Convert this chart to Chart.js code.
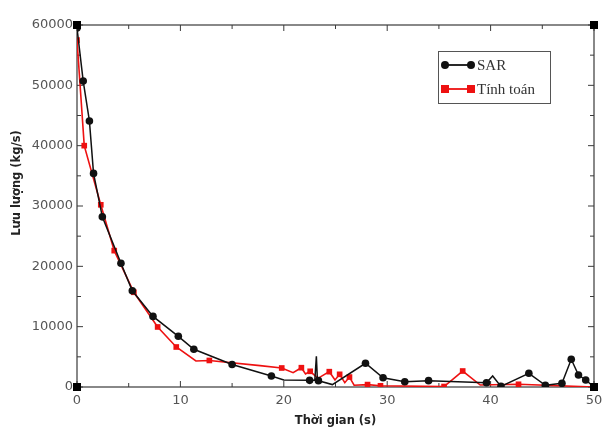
<!DOCTYPE html>
<html>
<head>
<meta charset="utf-8">
<script src="https://cdn.jsdelivr.net/npm/chart.js@4.4.0/dist/chart.umd.min.js"></script>
<style>
html,body{margin:0;padding:0;background:#fff;}
#wrap{width:603px;height:435px;position:relative;}
</style>
</head>
<body>
<div id="wrap"><canvas id="c" width="603" height="435"></canvas></div>
<script>
// ---- data ----
const seriesNames = ["SAR", "Tính toán"];
const xTitle = "Thời gian (s)";
const yTitle = "Lưu lượng (kg/s)";
const xTicks = [0, 10, 20, 30, 40, 50];
const yTicks = [0, 10000, 20000, 30000, 40000, 50000, 60000];

const sarTime = [0, 0.6, 1.2, 1.6, 2.45, 4.25, 5.35, 7.35, 9.8, 11.3, 15.0, 18.8, 20.0, 22.5, 23.0, 23.15, 23.25, 23.35, 24.7, 27.9, 29.6, 31.7, 34.0, 39.6, 40.2, 41.0, 43.7, 45.3, 46.9, 47.8, 48.5, 49.2, 50.0];
const sarFlow = [59500, 50700, 44100, 35400, 28200, 20500, 15950, 11700, 8400, 6250, 3730, 1820, 1160, 1100, 1100, 5100, 1100, 1050, 400, 3930, 1540, 880, 1050, 710, 1820, 100, 2270, 280, 610, 4590, 1990, 1160, 0];
const sarBend = [0, 0, 0, 0, 0, 0, 0, 0, 0, 0, 0, 0, 1, 0, 1, 1, 1, 0, 1, 0, 0, 0, 0, 0, 1, 0, 0, 0, 0, 0, 0, 0, 1];

const calcTime = [0, 0.7, 2.3, 3.6, 5.5, 7.8, 9.6, 11.5, 12.8, 17.7, 19.8, 20.9, 21.7, 22.1, 22.55, 23.3, 24.4, 24.95, 25.4, 25.9, 26.35, 26.8, 28.1, 29.35, 35.5, 37.3, 39.0, 42.7, 50.0];
const calcFlow = [57500, 40000, 30200, 22600, 15700, 9950, 6630, 4310, 4400, 3550, 3150, 2370, 3200, 2150, 2600, 1430, 2540, 1160, 2100, 710, 1650, 300, 400, 200, 80, 2650, 330, 450, 0];
const calcBend = [0, 0, 0, 0, 0, 0, 0, 1, 0, 1, 0, 1, 0, 1, 0, 1, 0, 1, 0, 1, 0, 1, 0, 0, 0, 0, 1, 0, 1];

const toPts = (xs, ys) => xs.map((x, i) => ({x: x, y: ys[i]}));

const AX = '#3a3a3a';
const frame = {
  id: 'frame',
  beforeDatasetsDraw(chart) {
    const {ctx, chartArea: a, scales} = chart;
    ctx.save();
    ctx.strokeStyle = AX;
    ctx.lineWidth = 1.2;
    ctx.strokeRect(a.left, a.top, a.right - a.left, a.bottom - a.top);
    ctx.lineWidth = 1;
    for (let v = 0; v <= 50; v += 5) {
      const px = scales.x.getPixelForValue(v);
      const L = (v % 10 === 0) ? 6 : 4;
      ctx.beginPath();
      ctx.moveTo(px, a.bottom); ctx.lineTo(px, a.bottom - L);
      ctx.moveTo(px, a.top); ctx.lineTo(px, a.top + L);
      ctx.stroke();
    }
    for (let v = 0; v <= 60000; v += 5000) {
      const py = scales.y.getPixelForValue(v);
      const L = (v % 10000 === 0) ? 6 : 4;
      ctx.beginPath();
      ctx.moveTo(a.left, py); ctx.lineTo(a.left + L, py);
      ctx.moveTo(a.right, py); ctx.lineTo(a.right - L, py);
      ctx.stroke();
    }
    ctx.restore();
  },
  afterDraw(chart) {
    const {ctx, chartArea: a} = chart;
    ctx.save();
    ctx.fillStyle = '#000';
    const s = 8;
    [[a.left, a.top], [a.right, a.top], [a.left, a.bottom], [a.right, a.bottom]].forEach(([x, y]) => {
      ctx.fillRect(x - s / 2, y - s / 2, s, s);
    });
    ctx.fillStyle = '#222';
    ctx.font = 'bold 11.5px "DejaVu Sans", sans-serif';
    ctx.textAlign = 'center';
    ctx.textBaseline = 'middle';
    ctx.fillText(xTitle, (a.left + a.right) / 2, 421);
    ctx.translate(17, 183);
    ctx.rotate(-Math.PI / 2);
    ctx.fillText(yTitle, 0, 0);
    ctx.restore();

    // legend
    ctx.save();
    const lx = 438, ly = 51, lw = 112, lh = 52;
    ctx.strokeStyle = '#555';
    ctx.lineWidth = 1;
    ctx.fillStyle = '#fff';
    ctx.fillRect(lx, ly, lw, lh);
    ctx.strokeRect(lx + 0.5, ly + 0.5, lw, lh);
    const rows = [65, 89];
    seriesNames.forEach((name, i) => {
      const ds = chart.data.datasets.find(d => d.label === name);
      const y = rows[i];
      ctx.strokeStyle = ds.borderColor;
      ctx.lineWidth = 1.8;
      ctx.beginPath(); ctx.moveTo(445, y); ctx.lineTo(471, y); ctx.stroke();
      ctx.fillStyle = ds.backgroundColor;
      [445, 471].forEach(x => {
        if (ds.pointStyle === 'rect') {
          ctx.fillRect(x - 4, y - 4, 8, 8);
        } else {
          ctx.beginPath(); ctx.arc(x, y, 4, 0, Math.PI * 2); ctx.fill();
        }
      });
      ctx.fillStyle = '#333';
      ctx.font = '15px "Liberation Serif", serif';
      ctx.textAlign = 'left';
      ctx.textBaseline = 'middle';
      ctx.fillText(name, 477, y + 1);
    });
    ctx.restore();
  }
};

new Chart(document.getElementById('c'), {
  type: 'scatter',
  data: {
    datasets: [
      {
        label: seriesNames[1],
        data: toPts(calcTime, calcFlow),
        showLine: true,
        borderColor: '#ee1111',
        backgroundColor: '#ee1111',
        borderWidth: 1.6,
        pointStyle: 'rect',
        pointRadius: ctx => calcBend[ctx.dataIndex] ? 0 : 4,
        pointBorderWidth: 0,
        tension: 0,
        order: 2
      },
      {
        label: seriesNames[0],
        data: toPts(sarTime, sarFlow),
        showLine: true,
        borderColor: '#111',
        backgroundColor: '#111',
        borderWidth: 1.5,
        pointStyle: 'circle',
        pointRadius: ctx => sarBend[ctx.dataIndex] ? 0 : 3.8,
        pointBorderWidth: 0,
        tension: 0,
        order: 1
      }
    ]
  },
  options: {
    responsive: false,
    animation: false,
    devicePixelRatio: 1,
    layout: {padding: {top: 25, right: 9, left: 0, bottom: 0}},
    plugins: {
      legend: {display: false},
      tooltip: {enabled: false}
    },
    scales: {
      x: {
        type: 'linear', min: 0, max: 50,
        afterBuildTicks: s => { s.ticks = xTicks.map(v => ({value: v})); },
        grid: {display: false, drawTicks: false},
        border: {display: false},
        ticks: {color: '#555', font: {family: '"DejaVu Sans", sans-serif', size: 13}, padding: 6, maxRotation: 0, callback: v => String(v)},
        afterFit: s => { s.height = 48; s.paddingRight = 0; s.paddingLeft = 0; }
      },
      y: {
        type: 'linear', min: 0, max: 60000,
        afterBuildTicks: s => { s.ticks = yTicks.map(v => ({value: v})); },
        grid: {display: false, drawTicks: false},
        border: {display: false},
        ticks: {color: '#555', font: {family: '"DejaVu Sans", sans-serif', size: 13}, padding: 4, callback: v => String(v)},
        afterFit: s => { s.width = 77; s.paddingTop = 0; s.paddingBottom = 0; }
      }
    }
  },
  plugins: [frame]
});
</script>
</body>
</html>
